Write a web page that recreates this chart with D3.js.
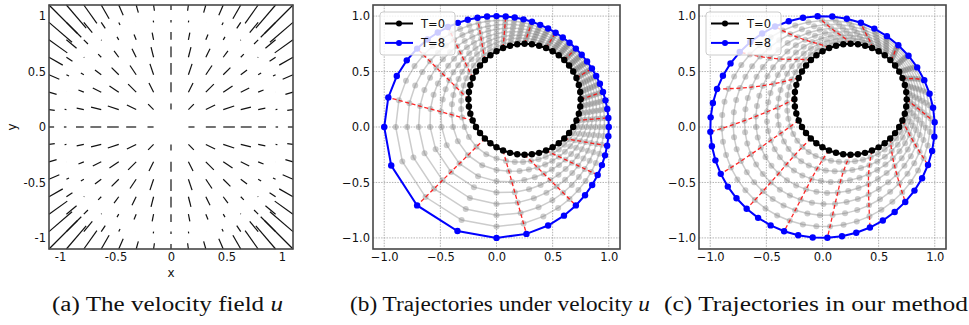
<!DOCTYPE html>
<html>
<head>
  <meta charset="utf-8">
  <style>
    body { margin: 0; background: #fff; }
    .tick text { font-family: "DejaVu Sans", sans-serif; font-size: 11.5px; fill: #111; }
    .axis-title { font-family: "DejaVu Sans", sans-serif; font-size: 12px; fill: #111; }
    .legend-label { font-family: "DejaVu Sans", sans-serif; font-size: 11.5px; fill: #111; }
    .caption { font-family: "Liberation Serif", serif; font-size: 20px; fill: #111; }
  </style>
</head>
<body>
  <svg width="969" height="325"></svg>
  <script src="https://cdn.jsdelivr.net/npm/d3@7"></script>
  <script>
    // ---- values ----
    const axisTicks = [-1, -0.5, 0, 0.5, 1];
    const fieldTickLabels = ["-1", "-0.5", "0", "0.5", "1"];
    const trajTickLabels = ["\u22121.0", "\u22120.5", "0.0", "0.5", "1.0"];

    // quiver grid (15 x 15) and arrow length vs distance from origin (negative = pointing inwards)
    const quiverGrid = [-1.1, -0.943, -0.786, -0.629, -0.471, -0.314, -0.157, 0, 0.157, 0.314, 0.471, 0.629, 0.786, 0.943, 1.1];
    const speedRadius = [0, 0.157, 0.314, 0.471, 0.628, 0.785, 0.942, 1.1, 1.257, 1.414, 1.556];
    const speedLength = [0, 0.055, 0.09, 0.105, 0.098, 0.071, 0.023, -0.046, -0.136, -0.246, -0.36];

    // starting ring (T=0), same in (b) and (c)
    const startCenter = [0.25, 0.25];
    const startRadius = 0.5;
    const pointCount = 48;
    const markEvery = 3;
    const steps = [0, 1, 2, 3, 4, 5, 6, 7, 8];

    // share of the way from the start ring to the unit circle, per step
    const radialProgress = [0, 0.125, 0.25, 0.375, 0.5, 0.625, 0.75, 0.875, 1];

    // (c) points sit evenly along each ring; polar angle (deg) of the first point, per step
    const anchorAngle = [18.4, 16.4, 14.4, 12.4, 10.5, 8.5, 6.5, 4.5, 2.5];

    const legendLabels = ["T=0", "T=8"];
    const captions = [
      ["(a) The velocity field ", "u"],
      ["(b) Trajectories under velocity ", "u"],
      ["(c) Trajectories in our method", ""]
    ];

    // ---- layout ----
    const svg = d3.select("svg");
    const panels = [
      { left: 49, top: 5, w: 244, h: 244, capX: 52, capW: 231 },
      { left: 373, top: 5, w: 247, h: 244, capX: 350, capW: 300 },
      { left: 699, top: 5, w: 247, h: 244, capX: 664, capW: 304 }
    ];
    const domain = [-1.1, 1.1];

    function scales(p) {
      return {
        x: d3.scaleLinear().domain(domain).range([p.left, p.left + p.w]),
        y: d3.scaleLinear().domain(domain).range([p.top + p.h, p.top])
      };
    }

    function drawAxes(p, s, labels) {
      const gx = svg.append("g")
        .attr("transform", `translate(0,${p.top + p.h})`)
        .call(d3.axisBottom(s.x).tickValues(axisTicks).tickSize(0).tickPadding(4)
          .tickFormat((d, i) => labels[i]));
      gx.select(".domain").remove();
      const gy = svg.append("g")
        .attr("transform", `translate(${p.left},0)`)
        .call(d3.axisLeft(s.y).tickValues(axisTicks).tickSize(0).tickPadding(3)
          .tickFormat((d, i) => labels[i]));
      gy.select(".domain").remove();
    }

    function drawFrame(p) {
      svg.append("rect")
        .attr("x", p.left).attr("y", p.top)
        .attr("width", p.w).attr("height", p.h)
        .attr("fill", "none").attr("stroke", "#474747").attr("stroke-width", 1.6);
    }

    function drawGrid(p, s) {
      const g = svg.append("g").attr("stroke", "#a0a0a0").attr("stroke-width", 0.8)
        .attr("stroke-dasharray", "1.5,1.2");
      g.selectAll(".gv").data(axisTicks).enter().append("line")
        .attr("x1", d => s.x(d)).attr("x2", d => s.x(d))
        .attr("y1", p.top).attr("y2", p.top + p.h);
      g.selectAll(".gh").data(axisTicks).enter().append("line")
        .attr("y1", d => s.y(d)).attr("y2", d => s.y(d))
        .attr("x1", p.left).attr("x2", p.left + p.w);
    }

    // ---- (a) velocity field ----
    const pa = panels[0], sa = scales(pa);
    const lengthAt = d3.scaleLinear().domain(speedRadius).range(speedLength);
    const arrows = [];
    quiverGrid.forEach(gy => quiverGrid.forEach(gx => {
      const r = Math.hypot(gx, gy);
      if (r === 0) return;
      const len = lengthAt(r);
      arrows.push({ x0: gx, y0: gy, x1: gx + len * gx / r, y1: gy + len * gy / r });
    }));
    svg.append("g").selectAll("line").data(arrows).enter().append("line")
      .attr("x1", d => sa.x(d.x0)).attr("y1", d => sa.y(d.y0))
      .attr("x2", d => sa.x(d.x1)).attr("y2", d => sa.y(d.y1))
      .attr("stroke", "#111").attr("stroke-width", 1.2);
    drawFrame(pa);
    drawAxes(pa, sa, fieldTickLabels);
    svg.append("text").attr("class", "axis-title")
      .attr("x", sa.x(0)).attr("y", 277).attr("text-anchor", "middle").text("x");
    svg.append("text").attr("class", "axis-title")
      .attr("transform", `translate(16,${sa.y(0)}) rotate(-90)`)
      .attr("text-anchor", "middle").text("y");

    // ---- rings ----
    const startPhase = d3.range(pointCount).map(k => 2 * Math.PI * k / pointCount);

    // distance from the origin to the start ring along polar angle th
    function startRadiusAlong(th) {
      const b = Math.cos(th) * startCenter[0] + Math.sin(th) * startCenter[1];
      const c2 = startCenter[0] ** 2 + startCenter[1] ** 2;
      return b + Math.sqrt(b * b - c2 + startRadius ** 2);
    }
    function ringPoint(th, prog) {
      const r0 = startRadiusAlong(th);
      const r = r0 + (1 - r0) * prog;
      return [r * Math.cos(th), r * Math.sin(th)];
    }

    // (b): every particle keeps its polar angle
    function radialRings() {
      return steps.map((t, si) => startPhase.map(a => {
        const th = Math.atan2(startCenter[1] + startRadius * Math.sin(a),
                              startCenter[0] + startRadius * Math.cos(a));
        return ringPoint(th, radialProgress[si]);
      }));
    }

    // (c): same rings, particles spread evenly along the ring
    function evenRings() {
      const n = 1440;
      return steps.map((t, si) => {
        const a0 = anchorAngle[si] * Math.PI / 180;
        const pts = d3.range(n + 1).map(i => ringPoint(a0 + 2 * Math.PI * i / n, radialProgress[si]));
        const cum = [0];
        for (let i = 1; i <= n; i++) {
          cum.push(cum[i - 1] + Math.hypot(pts[i][0] - pts[i - 1][0], pts[i][1] - pts[i - 1][1]));
        }
        const total = cum[n];
        return d3.range(pointCount).map(k => {
          const target = total * k / pointCount;
          const i = Math.max(1, d3.bisectLeft(cum, target));
          const f = (target - cum[i - 1]) / ((cum[i] - cum[i - 1]) || 1);
          return [pts[i - 1][0] + f * (pts[i][0] - pts[i - 1][0]),
                  pts[i - 1][1] + f * (pts[i][1] - pts[i - 1][1])];
        });
      });
    }

    function drawTrajectories(p, rings) {
      const s = scales(p);
      drawGrid(p, s);
      const line = d3.line().x(d => s.x(d[0])).y(d => s.y(d[1]));
      const closed = pts => pts.concat([pts[0]]);
      const g = svg.append("g");

      // intermediate rings in grey
      const mid = rings.slice(1, rings.length - 1);
      g.selectAll(".ring").data(mid).enter().append("path")
        .attr("d", d => line(closed(d)))
        .attr("fill", "none").attr("stroke", "#808080").attr("stroke-opacity", 0.4)
        .attr("stroke-width", 1.5);
      mid.forEach(ring => {
        g.append("g").selectAll("circle").data(ring).enter().append("circle")
          .attr("cx", d => s.x(d[0])).attr("cy", d => s.y(d[1])).attr("r", 3)
          .attr("fill", "#808080").attr("fill-opacity", 0.4);
      });

      // every third particle path in red
      const tracks = startPhase.map((a, k) => k).filter(k => k % markEvery === 0)
        .map(k => rings.map(r => r[k]));
      g.selectAll(".track").data(tracks).enter().append("path")
        .attr("d", d3.line().curve(d3.curveCatmullRom).x(d => s.x(d[0])).y(d => s.y(d[1])))
        .attr("fill", "none")
        .attr("stroke", "#ff0000").attr("stroke-opacity", 0.85)
        .attr("stroke-width", 1.3).attr("stroke-dasharray", "4,2.6");

      // first and last ring
      [[rings[0], "#000000"], [rings[rings.length - 1], "#0000ff"]].forEach(([ring, color]) => {
        g.append("path").attr("d", line(closed(ring)))
          .attr("fill", "none").attr("stroke", color).attr("stroke-width", 2);
        g.append("g").selectAll("circle").data(ring).enter().append("circle")
          .attr("cx", d => s.x(d[0])).attr("cy", d => s.y(d[1])).attr("r", 3.2)
          .attr("fill", color);
      });

      // legend
      const lx = p.left + 7, ly = p.top + 7;
      svg.append("rect").attr("x", lx).attr("y", ly).attr("width", 75).attr("height", 43)
        .attr("rx", 3).attr("fill", "#fff").attr("fill-opacity", 0.8)
        .attr("stroke", "#cccccc").attr("stroke-width", 1);
      ["#000000", "#0000ff"].forEach((color, i) => {
        const cy = ly + 11.5 + i * 19.4;
        svg.append("line").attr("x1", lx + 5).attr("x2", lx + 33).attr("y1", cy).attr("y2", cy)
          .attr("stroke", color).attr("stroke-width", 2);
        svg.append("circle").attr("cx", lx + 19).attr("cy", cy).attr("r", 3).attr("fill", color);
        svg.append("text").attr("class", "legend-label")
          .attr("x", lx + 41).attr("y", cy).attr("dy", "0.36em").text(legendLabels[i]);
      });

      drawFrame(p);
      drawAxes(p, s, trajTickLabels);
    }

    drawTrajectories(panels[1], radialRings());
    drawTrajectories(panels[2], evenRings());

    // ---- captions ----
    captions.forEach((c, i) => {
      const t = svg.append("text").attr("class", "caption")
        .attr("x", panels[i].capX).attr("y", 311)
        .attr("textLength", panels[i].capW).attr("lengthAdjust", "spacingAndGlyphs");
      t.append("tspan").text(c[0]);
      if (c[1]) t.append("tspan").attr("font-style", "italic").text(c[1]);
    });
  </script>
</body>
</html>
